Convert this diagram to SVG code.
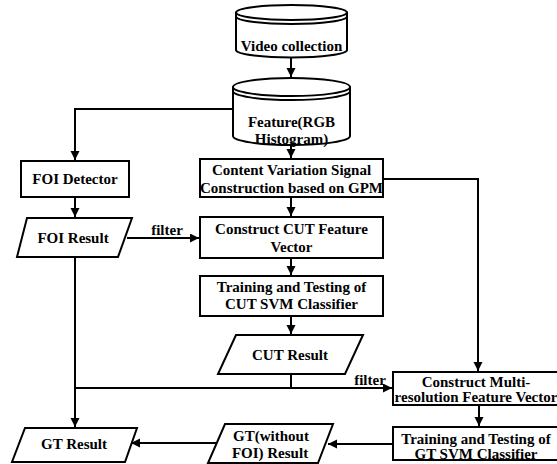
<svg xmlns="http://www.w3.org/2000/svg" width="557" height="464" viewBox="0 0 557 464">
<defs>
<marker id="arr" markerUnits="userSpaceOnUse" markerWidth="10" markerHeight="10" refX="9" refY="4.5" orient="auto">
<path d="M0,0 L9,4.5 L0,9 z" fill="#000"/>
</marker>
</defs>
<style>
.shape{fill:#fff;stroke:#000;stroke-width:2}
.line{fill:none;stroke:#000;stroke-width:2}
.arrow{fill:none;stroke:#000;stroke-width:2;marker-end:url(#arr)}
text{font-weight:bold;font-size:15px;fill:#000;text-anchor:middle;dominant-baseline:central}
.s{font-size:14.5px}
</style>
<rect width="557" height="464" fill="#fff"/>
<g font-family="'Liberation Serif', 'Times New Roman', 'DejaVu Serif', serif">
<g id="connectors">
<path class="arrow" d="M291,57.5 L291,77"/>
<path class="arrow" d="M233,109 L75,109 L75,160"/>
<path class="arrow" d="M291,145 L291,158"/>
<path class="arrow" d="M291,197 L291,216"/>
<path class="arrow" d="M383,179 L478,179 L478,371"/>
<path class="arrow" d="M75,197 L75,217"/>
<path class="arrow" d="M127,238 L199,238"/>
<path class="arrow" d="M291,258 L291,275"/>
<path class="arrow" d="M291,316 L291,334"/>
<path class="line" d="M291,374 L291,388"/>
<path class="arrow" d="M75,257 L75,427"/>
<path class="arrow" d="M75,388 L392,388"/>
<path class="arrow" d="M479,405 L479,426"/>
<path class="arrow" d="M393,444 L328,444"/>
<path class="arrow" d="M216,443 L131,443"/>
<text x="167" y="230">filter</text>
<text x="370" y="380">filter</text>
</g>
<g id="video">
<path class="shape" d="M236,12.5 A55.5,7.5 0 0 1 347,12.5 L347,50 A55.5,7.5 0 0 1 236,50 Z"/>
<path class="line" d="M236,12.5 A55.5,7.5 0 0 0 347,12.5"/>
<path class="line" d="M236,16.5 A55.5,7.5 0 0 0 347,16.5"/>
<text x="291.5" y="46">Video collection</text>
</g>
<g id="feature">
<path class="shape" d="M233,87 A58.5,9 0 0 1 350,87 L350,136 A58.5,9 0 0 1 233,136 Z"/>
<path class="line" d="M233,87 A58.5,9 0 0 0 350,87"/>
<path class="line" d="M233,91 A58.5,9 0 0 0 350,91"/>
<text x="291.5" y="122">Feature(RGB</text>
<text x="291.5" y="139">Histogram)</text>
</g>
<g id="foi-detector">
<rect class="shape" x="21" y="161" width="108" height="36"/>
<text x="75" y="179">FOI Detector</text>
</g>
<g id="foi-result">
<path class="shape" d="M27,218 L132,218 L118,257 L17,257 Z"/>
<text x="73" y="238">FOI Result</text>
</g>
<g id="content-variation">
<rect class="shape" x="200" y="159" width="183" height="38"/>
<text x="291.5" y="170">Content Variation Signal</text>
<text x="291.5" y="188">Construction based on GPM</text>
</g>
<g id="cut-feature">
<rect class="shape" x="200" y="217" width="183" height="41"/>
<text x="291.5" y="229">Construct CUT Feature</text>
<text x="291.5" y="247">Vector</text>
</g>
<g id="cut-svm">
<rect class="shape" x="200" y="276" width="183" height="40"/>
<text x="291.5" y="287">Training and Testing of</text>
<text x="291.5" y="304">CUT SVM Classifier</text>
</g>
<g id="cut-result">
<path class="shape" d="M236,335 L363,335 L345,374 L218,374 Z"/>
<text x="290" y="355">CUT Result</text>
</g>
<g id="multi-res">
<rect class="shape" x="393" y="372" width="170" height="33"/>
<text x="476" y="381.5">Construct Multi-</text>
<text x="476" y="396.5">resolution Feature Vector</text>
</g>
<g id="gt-svm">
<rect class="shape" x="393" y="427" width="170" height="33"/>
<text x="476" y="439">Training and Testing of</text>
<text x="476" y="454">GT SVM Classifier</text>
</g>
<g id="gt-without-foi">
<path class="shape" d="M225,424 L333,424 L318,463 L208,463 Z"/>
<text x="271" y="436">GT(without</text>
<text x="270" y="453">FOI) Result</text>
</g>
<g id="gt-result">
<path class="shape" d="M25,428 L137,428 L125,462 L12,462 Z"/>
<text x="74" y="444">GT Result</text>
</g>
</g>
</svg>
